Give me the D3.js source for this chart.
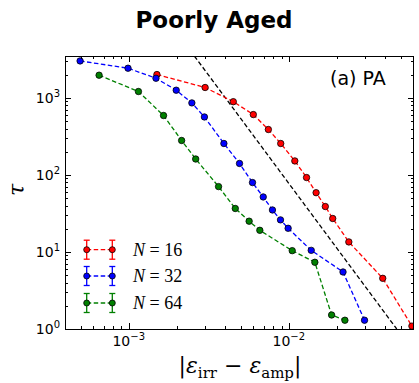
<!DOCTYPE html>
<html>
<head>
<meta charset="utf-8">
<script src="https://cdn.jsdelivr.net/npm/d3@7"></script>
<style>
  html, body { margin: 0; padding: 0; background: #fff; }
  svg { display: block; }
</style>
</head>
<body>
<svg id="chart" width="419" height="383"></svg>
<script>
// Relaxation time tau versus strain distance for three system sizes
const epsN16 = [1.5e-3, 3.0e-3, 4.5e-3, 6.0e-3, 7.45e-3, 8.9e-3, 0.0109, 0.0129, 0.0148, 0.0169, 0.0188, 0.0237, 0.0386, 0.0587];
const tauN16 = [2010, 1365, 893, 608, 389, 256, 152, 92.5, 58.8, 38.9, 27.2, 13.5, 4.55, 1.09];

const epsN32 = [4.97e-4, 9.9e-4, 1.48e-3, 1.98e-3, 2.48e-3, 2.97e-3, 3.93e-3, 4.92e-3, 5.93e-3, 6.92e-3, 7.9e-3, 8.87e-3, 9.9e-3, 0.0138, 0.0218, 0.0297];
const tauN32 = [3020, 2430, 1800, 1259, 861, 566, 256, 141, 79.6, 51.8, 35.1, 26.1, 20.3, 10.5, 5.5, 1.30];

const epsN64 = [6.53e-4, 1.15e-3, 1.65e-3, 2.14e-3, 2.62e-3, 3.64e-3, 4.63e-3, 5.65e-3, 6.59e-3, 0.0105, 0.01454, 0.0185, 0.0224];
const tauN64 = [1972, 1211, 591, 280, 161, 70.6, 36.7, 25.1, 19.1, 10.4, 7.35, 1.52, 1.30];

// Power-law guide line (two end points)
const guideEps = [2.57e-3, 0.0472];
const guideTau = [3500, 1];

const seriesNames = ["16", "32", "64"];
const seriesColors = ["#ff0000", "#0000ff", "#008000"];

const xMajorExp = [-3, -2];
const yMajorExp = [0, 1, 2, 3];

const svg = d3.select("#chart");
const m = { left: 65, top: 56, right: 414, bottom: 329 };

const x = d3.scaleLog().domain([4e-4, 0.0605]).range([m.left, m.right]);
const y = d3.scaleLog().domain([1, 3500]).range([m.bottom, m.top]);

svg.append("defs").append("clipPath").attr("id", "plotclip")
  .append("rect").attr("x", m.left).attr("y", m.top)
  .attr("width", m.right - m.left).attr("height", m.bottom - m.top);

// Title
svg.append("text")
  .attr("x", 214).attr("y", 28)
  .attr("text-anchor", "middle")
  .attr("font-family", "'DejaVu Sans', sans-serif")
  .attr("font-weight", "bold")
  .attr("font-size", 23)
  .text("Poorly Aged");

const plot = svg.append("g").attr("clip-path", "url(#plotclip)");

const line = d3.line().x(d => x(d[0])).y(d => y(d[1]));

// Guide
plot.append("path")
  .datum(d3.zip(guideEps, guideTau))
  .attr("d", line)
  .attr("fill", "none")
  .attr("stroke", "#000")
  .attr("stroke-width", 1.3)
  .attr("stroke-dasharray", "4.5,2.5");

const allSeries = [
  d3.zip(epsN16, tauN16),
  d3.zip(epsN32, tauN32),
  d3.zip(epsN64, tauN64)
];

allSeries.forEach((pts, i) => {
  plot.append("path")
    .datum(pts)
    .attr("d", line)
    .attr("fill", "none")
    .attr("stroke", seriesColors[i])
    .attr("stroke-width", 1.3)
    .attr("stroke-dasharray", "4.5,2.5");
});
allSeries.forEach((pts, i) => {
  plot.append("g").selectAll("circle").data(pts).join("circle")
    .attr("cx", d => x(d[0])).attr("cy", d => y(d[1]))
    .attr("r", 3.2)
    .attr("fill", seriesColors[i])
    .attr("stroke", "#000")
    .attr("stroke-width", 0.8);
});

// Ticks (inward, on all four sides)
function logTicks(lo, hi) {
  const out = [];
  for (let e = Math.floor(Math.log10(lo)); e <= Math.ceil(Math.log10(hi)); e++) {
    for (let k = 1; k <= 9; k++) {
      const v = k * Math.pow(10, e);
      if (v >= lo * 0.9999 && v <= hi * 1.0001) out.push({ v, major: k === 1 });
    }
  }
  return out;
}
const ax = svg.append("g").attr("stroke", "#000").attr("stroke-width", 1);
const xt = logTicks(4e-4, 0.0605);
const yt = logTicks(1, 3500);
xt.forEach(t => {
  const px = Math.round(x(t.v)) + 0.5, len = t.major ? 6 : 3;
  ax.append("line").attr("x1", px).attr("x2", px).attr("y1", m.bottom).attr("y2", m.bottom - len);
  ax.append("line").attr("x1", px).attr("x2", px).attr("y1", m.top).attr("y2", m.top + len);
});
yt.forEach(t => {
  const py = Math.round(y(t.v)) + 0.5, len = t.major ? 6 : 3;
  ax.append("line").attr("x1", m.left).attr("x2", m.left + len).attr("y1", py).attr("y2", py);
  ax.append("line").attr("x1", m.right).attr("x2", m.right - len).attr("y1", py).attr("y2", py);
});
svg.append("rect")
  .attr("x", m.left + 0.5).attr("y", m.top + 0.5)
  .attr("width", m.right - m.left - 1).attr("height", m.bottom - m.top)
  .attr("fill", "none").attr("stroke", "#000").attr("stroke-width", 1);

// Tick labels
const tickFont = "'DejaVu Sans', sans-serif";
xMajorExp.forEach(e => {
  const t = svg.append("text")
    .attr("x", x(Math.pow(10, e))).attr("y", 346)
    .attr("text-anchor", "middle")
    .attr("font-family", tickFont).attr("font-size", 14).attr("fill", "#000");
  t.append("tspan").text("10");
  t.append("tspan").attr("dy", -6).attr("font-size", 10).text("\u2212" + Math.abs(e));
});
yMajorExp.forEach(e => {
  const t = svg.append("text")
    .attr("x", 60).attr("y", y(Math.pow(10, e)) + 5)
    .attr("text-anchor", "end")
    .attr("font-family", tickFont).attr("font-size", 14).attr("fill", "#000");
  t.append("tspan").text("10");
  t.append("tspan").attr("dy", -6).attr("font-size", 10).text(String(e));
});

// Axis labels
const xl = svg.append("text")
  .attr("x", 240).attr("y", 373)
  .attr("text-anchor", "middle")
  .attr("font-family", "'DejaVu Serif', serif").attr("font-size", 22).attr("fill", "#000");
xl.append("tspan").text("|");
xl.append("tspan").attr("font-style", "italic").text("\u03b5");
xl.append("tspan").attr("dy", 5).attr("font-size", 15).text("irr");
xl.append("tspan").attr("dy", -5).text(" \u2212 ");
xl.append("tspan").attr("font-style", "italic").text("\u03b5");
xl.append("tspan").attr("dy", 5).attr("font-size", 15).text("amp");
xl.append("tspan").attr("dy", -5).text("|");

svg.append("text")
  .attr("transform", "translate(24,190) rotate(-90)")
  .attr("text-anchor", "middle")
  .attr("font-family", "'DejaVu Serif', serif").attr("font-style", "italic")
  .attr("font-size", 22).attr("fill", "#000")
  .text("\u03c4");

// Panel tag
svg.append("text")
  .attr("x", 330).attr("y", 85)
  .attr("font-family", "'DejaVu Sans', sans-serif").attr("font-size", 19).attr("fill", "#000")
  .text("(a) PA");

// Legend with error-bar style handles
const legY = [249.7, 276, 303];
const lg = svg.append("g");
seriesNames.forEach((n, i) => {
  const cy = legY[i], c = seriesColors[i];
  lg.append("line").attr("x1", 86.7).attr("x2", 112.3).attr("y1", cy).attr("y2", cy)
    .attr("stroke", c).attr("stroke-width", 1.3).attr("stroke-dasharray", "4.5,2.5");
  [86.7, 112.3].forEach(cx => {
    lg.append("line").attr("x1", cx).attr("x2", cx).attr("y1", cy - 9.5).attr("y2", cy + 9.5)
      .attr("stroke", c).attr("stroke-width", 1.3);
    [cy - 9.5, cy + 9.5].forEach(yy => {
      lg.append("line").attr("x1", cx - 3).attr("x2", cx + 3).attr("y1", yy).attr("y2", yy)
        .attr("stroke", c).attr("stroke-width", 1.3);
    });
    lg.append("circle").attr("cx", cx).attr("cy", cy).attr("r", 3)
      .attr("fill", c).attr("stroke", "#000").attr("stroke-width", 0.8);
  });
  const t = lg.append("text").attr("x", 133).attr("y", cy + 6)
    .attr("font-family", "'Liberation Serif', serif").attr("font-size", 18).attr("fill", "#000");
  t.append("tspan").attr("font-style", "italic").text("N");
  t.append("tspan").text(" = " + n);
});
</script>
</body>
</html>
